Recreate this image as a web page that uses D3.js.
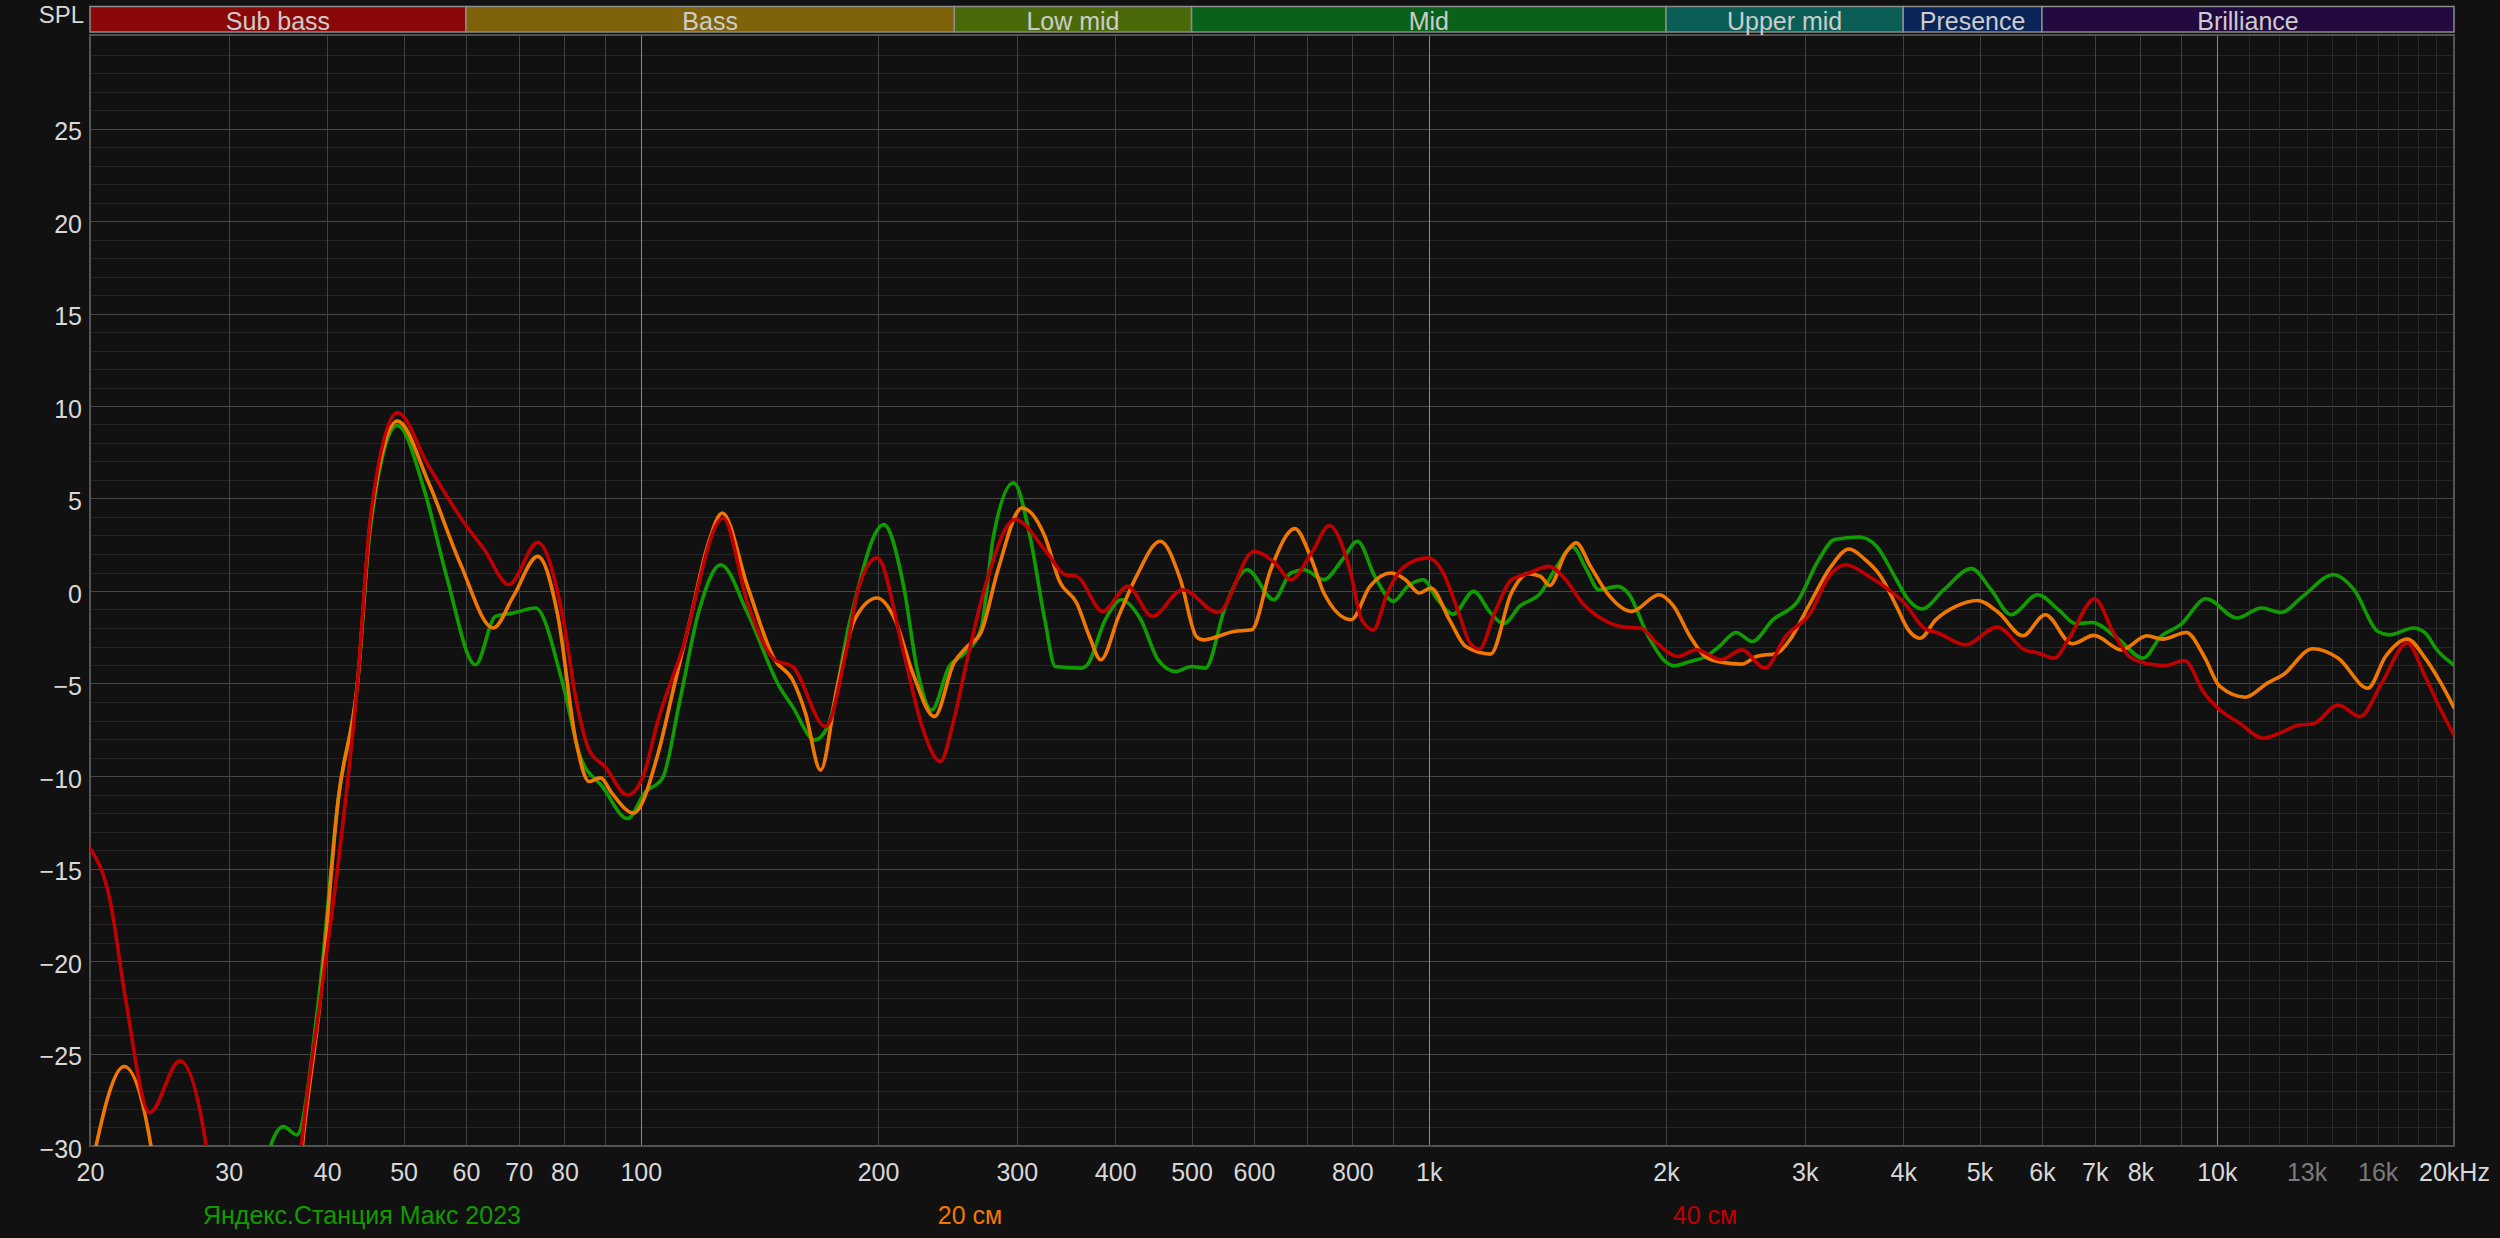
<!DOCTYPE html>
<html>
<head>
<meta charset="utf-8">
<script src="https://cdn.jsdelivr.net/npm/d3@7"></script>
<style>
  body { margin: 0; background: #111111; }
  svg text { font-family: "Liberation Sans", Arial, sans-serif; }
</style>
</head>
<body>
<div id="chart"></div>
<script>
// frequency bands across the header
const bandNames = ['Sub bass', 'Bass', 'Low mid', 'Mid', 'Upper mid', 'Presence', 'Brilliance'];
const bandEdges = [20, 60, 250, 500, 2000, 4000, 6000, 20000];
const bandColors = ['#8a0808', '#80620a', '#4a6a0a', '#0a621a', '#0a5e55', '#0a2658', '#220a40'];

// axis ticks
const xTickValues = [20, 30, 40, 50, 60, 70, 80, 100, 200, 300, 400, 500, 600, 800, 1000, 2000, 3000, 4000, 5000, 6000, 7000, 8000, 10000, 13000, 16000, 20000];
const xTickLabels = ['20', '30', '40', '50', '60', '70', '80', '100', '200', '300', '400', '500', '600', '800', '1k', '2k', '3k', '4k', '5k', '6k', '7k', '8k', '10k', '13k', '16k', '20kHz'];
const yTickValues = [25, 20, 15, 10, 5, 0, -5, -10, -15, -20, -25, -30];

// series: [frequency Hz, SPL dB]
const seriesNames = ['Яндекс.Станция Макс 2023', '20 см', '40 см'];
const seriesColors = ['#109c00', '#f07800', '#c00000'];

const stationMax2023 = [
  [32.5, -36], [33.9, -30.0], [35.2, -28.95], [36.6, -29.4], [39.0, -22.1], [41.3, -11.3], [43.7, -5.0], [45.4, 3.5],
  [49.1, 8.95], [53.1, 5.48], [56.7, 0.79], [61.7, -3.99], [65.4, -1.37], [68.9, -1.19], [73.5, -0.92], [79.6, -5.0],
  [83.8, -8.95], [89.5, -10.6], [96.2, -12.3], [101.2, -10.9], [106.6, -10.1], [112, -6.0], [118.5, -1.1], [126.3, 1.42],
  [136.6, -1.19], [149.9, -5.16], [155.8, -6.25], [166.3, -8.05], [172.6, -7.33], [184.4, -1.55], [203.4, 3.59], [215.6, 0.25],
  [224.3, -4.26], [234, -6.43], [246.2, -4.08], [257.8, -3.36], [270, -2.1], [280.3, 2.96], [297.3, 5.85], [311.8, 2.96],
  [325.6, -1.55], [335.8, -4.08], [362, -4.17], [368.6, -4.0], [388.6, -1.55], [407, -0.47], [431, -1.55], [453.4, -3.72],
  [477.6, -4.35], [500, -4.08], [520.6, -4.17], [552, -0.83], [588, 1.15], [636, -0.47], [668, 0.97], [694, 1.15],
  [736, 0.61], [777, 1.7], [812, 2.69], [854, 0.79], [902, -0.56], [940, 0.25], [984, 0.61], [1026, -0.47],
  [1074, -1.25], [1140, -0.02], [1198, -1.19], [1244, -1.77], [1304, -0.83], [1386, -0.11], [1454, 1.33], [1522, 2.38],
  [1586, 1.15], [1644, 0.07], [1736, 0.25], [1790, -0.11], [1900, -2.46], [1996, -3.81], [2046, -4.04], [2146, -3.81],
  [2248, -3.54], [2336, -3.0], [2454, -2.24], [2572, -2.73], [2734, -1.55], [2938, -0.56], [3126, 1.7], [3272, 2.78],
  [3518, 2.92], [3702, 2.41], [3922, 0.61], [4060, -0.47], [4227, -0.97], [4505, 0.07], [4884, 1.21], [5172, 0.07],
  [5480, -1.28], [5927, -0.2], [6294, -1.01], [6628, -1.77], [6940, -1.7], [7478, -2.55], [8064, -3.63], [8492, -2.46],
  [8996, -1.82], [9692, -0.42], [10606, -1.46], [11388, -0.92], [12068, -1.16], [12856, -0.29], [14068, 0.88], [14934, 0.07],
  [16008, -2.19], [16572, -2.37], [17754, -2.0], [18382, -2.27], [19026, -3.18], [20000, -4.0]
];

const dist20cm = [
  [20, -31.5], [22.1, -25.7], [23.9, -30], [25, -40], [35.5, -40], [37.2, -30], [39.2, -22.1], [41.3, -11.3],
  [43.7, -5.0], [45.4, 3.8], [49.1, 9.18], [53.8, 5.85], [58.96, 1.52], [65.0, -2.0], [68.9, -0.29], [74.0, 1.87],
  [78.5, -1.37], [82.8, -8.2], [86.0, -10.3], [88.9, -10.1], [91.8, -10.9], [97.9, -12.0], [105.2, -8.77], [110.2, -5.16],
  [115.5, -1.55], [121.5, 2.41], [126.9, 4.22], [136.6, 0.25], [147.9, -3.72], [155.8, -4.8], [161.8, -6.6], [169.1, -9.68],
  [177.6, -5.16], [186.8, -1.55], [199.5, -0.38], [210.2, -1.55], [221.4, -4.44], [235.9, -6.79], [249.6, -3.9], [259.5, -3.0],
  [270, -2.27], [284, 1.15], [304.6, 4.49], [325.6, 2.96], [340, 0.52], [357.4, -0.65], [371, -2.46], [383.5, -3.72],
  [404, -1.37], [425.6, 0.79], [456.3, 2.69], [484, 0.61], [507, -2.46], [517, -2.64], [566, -2.19], [596, -2.1],
  [630, 1.15], [676, 3.37], [710, 1.7], [736, -0.11], [797, -1.55], [842, 0.25], [896, 0.97], [934, 0.61],
  [973, -0.11], [1006, 0.16], [1062, -1.55], [1114, -3.0], [1198, -3.41], [1273, -0.11], [1336, 0.94], [1386, 0.79],
  [1424, 0.3], [1492, 2.06], [1538, 2.6], [1604, 1.33], [1684, -0.11], [1810, -1.1], [1960, -0.2], [2046, -0.83],
  [2146, -2.46], [2248, -3.58], [2362, -3.87], [2496, -3.95], [2604, -3.54], [2768, -3.36], [2872, -2.64], [3032, -0.83],
  [3240, 1.33], [3414, 2.27], [3578, 1.7], [3746, 0.79], [3922, -0.83], [4060, -2.1], [4202, -2.55], [4400, -1.55],
  [4664, -0.83], [4968, -0.51], [5292, -1.19], [5672, -2.42], [6058, -1.28], [6552, -2.85], [6984, -2.4], [7568, -3.18],
  [8154, -2.42], [8536, -2.6], [9150, -2.24], [9638, -3.54], [10090, -5.16], [10876, -5.74], [11592, -4.98], [12138, -4.53],
  [13232, -3.12], [14262, -3.63], [15552, -5.25], [16374, -3.54], [17448, -2.6], [18382, -3.63], [19250, -4.98], [20000, -6.3]
];

const dist40cm = [
  [20, -13.9], [21.2, -16.7], [22.2, -22.1], [23.8, -28.2], [26.0, -25.4], [28.1, -30.07], [29.5, -40], [35.5, -40],
  [37.1, -30], [39.2, -22.1], [41.5, -14.0], [43.7, -5.0], [45.4, 4.0], [49.1, 9.64], [53.8, 6.75], [59.7, 3.68],
  [63.3, 2.24], [68.0, 0.34], [74.0, 2.63], [79.6, -1.37], [82.8, -5.9], [86.0, -8.6], [90.1, -9.5], [96.2, -11.03],
  [100.7, -10.0], [105.2, -6.97], [112.5, -3.36], [127.2, 3.95], [136.6, -0.65], [147.9, -3.72], [155.8, -4.08], [171.6, -7.33],
  [182.0, -3.36], [189.2, 0.25], [199.5, 1.79], [215.6, -3.36], [227.5, -7.33], [239.9, -9.22], [249.6, -6.97], [259.5, -3.72],
  [273.6, 0.25], [298.5, 3.86], [325.6, 2.24], [345.6, 0.88], [357.4, 0.79], [385.7, -1.1], [414.9, 0.25], [445.9, -1.37],
  [487.1, 0.07], [540, -1.16], [600, 2.14], [638, 1.52], [668, 0.61], [710, 2.06], [748, 3.54], [794, 1.15],
  [822, -1.55], [850, -2.1], [886, -0.11], [931, 1.33], [998, 1.79], [1038, 1.15], [1088, -1.01], [1128, -2.82],
  [1159, -3.14], [1212, -1.19], [1273, 0.61], [1336, 0.94], [1420, 1.33], [1492, 0.61], [1566, -0.65], [1664, -1.55],
  [1768, -1.95], [1857, -2.0], [1948, -2.82], [2070, -3.54], [2185, -3.18], [2350, -3.72], [2496, -3.18], [2670, -4.17],
  [2836, -2.46], [3050, -1.19], [3220, 0.79], [3382, 1.42], [3618, 0.79], [3834, 0.07], [4012, -0.65], [4250, -2.0],
  [4428, -2.27], [4798, -2.91], [5264, -1.95], [5706, -3.18], [5940, -3.36], [6220, -3.63], [6514, -2.46], [7000, -0.42],
  [7396, -2.27], [7744, -3.54], [8108, -3.9], [8592, -4.03], [9100, -3.76], [9638, -5.52], [10090, -6.43], [10692, -7.15],
  [11460, -7.96], [12138, -7.6], [12710, -7.24], [13232, -7.19], [14262, -6.16], [15198, -6.79], [16192, -4.98], [17448, -2.82],
  [18382, -4.62], [19250, -6.43], [20000, -7.8]
];

const legendX = [362, 970, 1705];

const W = 2500, H = 1238;
const plot = { left: 90, right: 2454, top: 36, bottom: 1146 };

const x = d3.scaleLog().domain([20, 20000]).range([plot.left, plot.right]);
const y = d3.scaleLinear().domain([-30, 30]).range([plot.bottom, plot.top]);

const svg = d3.select('#chart')
  .append('svg')
  .attr('width', W)
  .attr('height', H);

svg.append('rect').attr('width', W).attr('height', H).attr('fill', '#111111');

svg.append('defs').append('clipPath')
  .attr('id', 'plotClip')
  .append('rect')
  .attr('x', plot.left)
  .attr('y', plot.top - 1)
  .attr('width', plot.right - plot.left)
  .attr('height', plot.bottom - plot.top + 1);

const crisp = v => Math.round(v) + 0.5;

// horizontal grid, 1 dB minor and 5 dB major
const grid = svg.append('g').attr('class', 'grid');
grid.selectAll('line.h')
  .data(d3.range(-29, 30, 1))
  .join('line')
  .attr('class', 'h')
  .attr('x1', plot.left).attr('x2', plot.right)
  .attr('y1', d => crisp(y(d))).attr('y2', d => crisp(y(d)))
  .attr('stroke', d => d % 5 === 0 ? '#474747' : '#262626')
  .attr('stroke-width', 1);

// vertical grid
const gridFreqs = [];
[10, 100, 1000].forEach(dec => {
  d3.range(1, 10).forEach(m => {
    const f = m * dec;
    if (f > 20 && f < 20000) gridFreqs.push(f);
  });
});
gridFreqs.push(10000);
const fineFreqs = d3.range(11000, 20000, 1000);

grid.selectAll('line.vf')
  .data(fineFreqs)
  .join('line')
  .attr('class', 'vf')
  .attr('x1', d => crisp(x(d))).attr('x2', d => crisp(x(d)))
  .attr('y1', plot.top).attr('y2', plot.bottom)
  .attr('stroke', '#282828');

grid.selectAll('line.v')
  .data(gridFreqs)
  .join('line')
  .attr('class', 'v')
  .attr('x1', d => crisp(x(d))).attr('x2', d => crisp(x(d)))
  .attr('y1', plot.top).attr('y2', plot.bottom)
  .attr('stroke', d => (d === 100 || d === 1000 || d === 10000) ? '#8a8a8a' : '#424242');

// plot frame
svg.append('rect')
  .attr('x', plot.left)
  .attr('y', plot.top - 1)
  .attr('width', plot.right - plot.left)
  .attr('height', plot.bottom - plot.top + 1)
  .attr('fill', 'none')
  .attr('stroke', '#525252')
  .attr('stroke-width', 2);

// band header
const bands = svg.append('g').attr('class', 'bands');
bandNames.forEach((name, i) => {
  const x0 = x(bandEdges[i]), x1 = x(bandEdges[i + 1]);
  bands.append('rect')
    .attr('x', x0).attr('y', 6.5)
    .attr('width', x1 - x0).attr('height', 25.5)
    .attr('fill', bandColors[i])
    .attr('stroke', '#8c8c8c')
    .attr('stroke-width', 1.5);
  bands.append('text')
    .attr('x', (x0 + x1) / 2)
    .attr('y', 29.5)
    .attr('text-anchor', 'middle')
    .attr('font-size', 25)
    .attr('fill', '#cccccc')
    .text(name);
});

svg.append('text')
  .attr('x', 84).attr('y', 23)
  .attr('text-anchor', 'end')
  .attr('font-size', 24)
  .attr('fill', '#d8d8d8')
  .text('SPL');

// axes
const yAxisG = svg.append('g')
  .attr('transform', `translate(${plot.left},0)`)
  .call(d3.axisLeft(y).tickValues(yTickValues).tickSize(0).tickPadding(8));
yAxisG.select('.domain').remove();
yAxisG.selectAll('text')
  .attr('font-size', 25)
  .attr('font-family', '"Liberation Sans", Arial, sans-serif')
  .attr('fill', '#d8d8d8')
  .attr('dy', '0.45em');

const xAxisG = svg.append('g')
  .attr('transform', `translate(0,${plot.bottom})`)
  .call(d3.axisBottom(x).tickValues(xTickValues).tickFormat((d, i) => xTickLabels[i]).tickSize(0).tickPadding(17));
xAxisG.select('.domain').remove();
xAxisG.selectAll('text')
  .attr('font-size', 25)
  .attr('font-family', '"Liberation Sans", Arial, sans-serif')
  .attr('fill', d => (d === 13000 || d === 16000) ? '#7a7a7a' : '#d8d8d8');

// response curves
const line = d3.line()
  .x(d => x(d[0]))
  .y(d => y(d[1]))
  .curve(d3.curveMonotoneX);

const curves = svg.append('g').attr('clip-path', 'url(#plotClip)');
[stationMax2023, dist20cm, dist40cm].forEach((data, i) => {
  curves.append('path')
    .datum(data)
    .attr('fill', 'none')
    .attr('stroke', seriesColors[i])
    .attr('stroke-width', 3.6)
    .attr('stroke-linejoin', 'round')
    .attr('stroke-linecap', 'round')
    .attr('d', line);
});

// legend
svg.append('g').selectAll('text')
  .data(seriesNames)
  .join('text')
  .attr('x', (d, i) => legendX[i])
  .attr('y', 1224)
  .attr('text-anchor', 'middle')
  .attr('font-size', 25)
  .attr('fill', (d, i) => seriesColors[i])
  .text(d => d);
</script>
</body>
</html>
